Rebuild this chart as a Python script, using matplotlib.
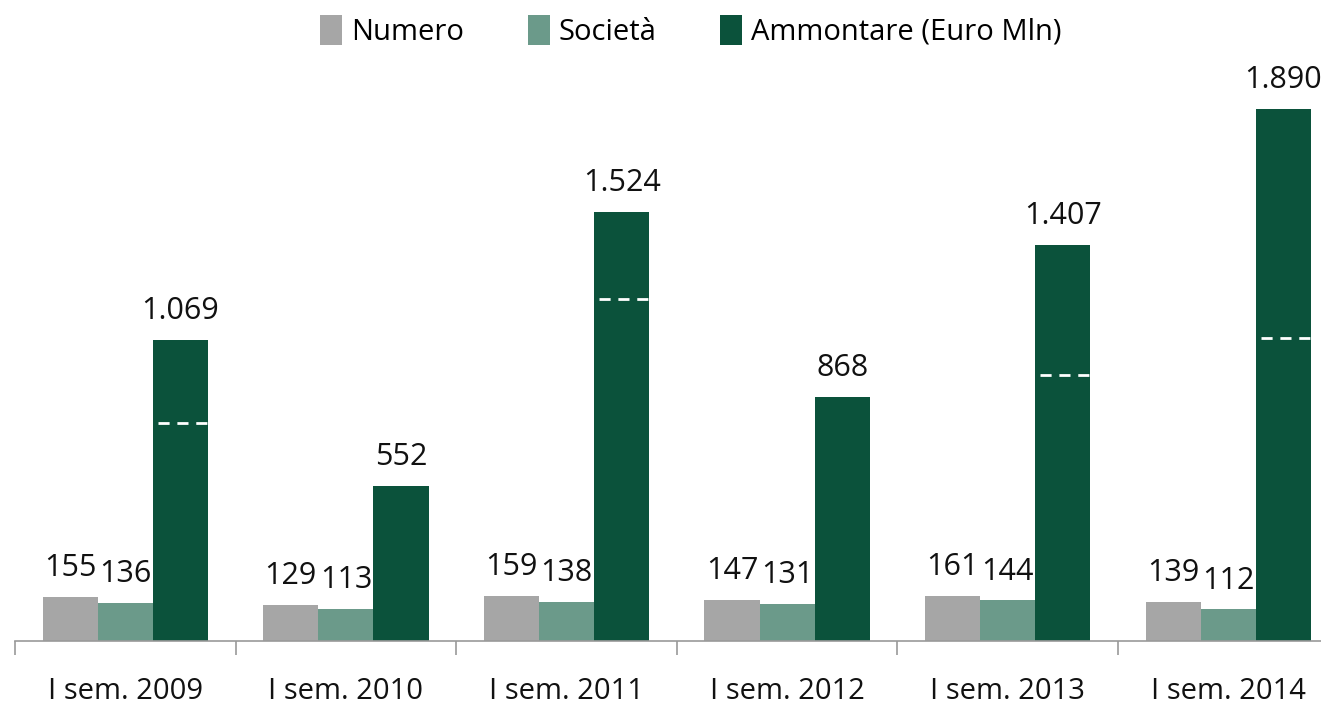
import matplotlib.pyplot as plt
import numpy as np

# dati
periodi = ["I sem. 2009", "I sem. 2010", "I sem. 2011", "I sem. 2012", "I sem. 2013", "I sem. 2014"]
numero = [155, 129, 159, 147, 161, 139]
societa = [136, 113, 138, 131, 144, 112]
ammontare = [1069, 552, 1524, 868, 1407, 1890]
# linee tratteggiate dentro le barre (None = assente)
tratteggio = [774, None, 1214, None, 945, 1076]

c_num = "#a6a6a6"
c_soc = "#6b9a8a"
c_amm = "#0b523b"

plt.rcParams['font.family'] = ['Open Sans', 'DejaVu Sans']

fig = plt.figure(figsize=(13.21, 7.07), dpi=100)
ax = fig.add_axes([15 / 1321, 66 / 707, 1323.6 / 1321, 581 / 707])

x = np.arange(len(periodi))
w = 0.25
b1 = ax.bar(x - w, numero, w, color=c_num, label="Numero")
b2 = ax.bar(x, societa, w, color=c_soc, label="Società")
b3 = ax.bar(x + w, ammontare, w, color=c_amm, label="Ammontare (Euro Mln)")

fmt = lambda v: f"{v:,}".replace(",", ".")
for bars in (b1, b2, b3):
    ax.bar_label(bars, labels=[fmt(v) for v in bars.datavalues], padding=10,
                 fontsize=22, color="#111111")

for i, t in enumerate(tratteggio):
    if t is not None:
        ax.plot([x[i] + w / 2, x[i] + 1.5 * w], [t, t], color="white", lw=2,
                linestyle=(5, (4, 2.8)), dash_capstyle="butt")

ax.set_xlim(-0.5, len(periodi) - 0.5)
ax.set_ylim(0, 2063)
ax.set_yticks([])
for s in ("top", "right", "left"):
    ax.spines[s].set_visible(False)
ax.spines["bottom"].set_color("#999999")
ax.spines["bottom"].set_linewidth(1.2)

ax.set_xticks(np.arange(-0.5, len(periodi)), labels=[])
ax.tick_params(axis="x", which="major", length=10, width=1.2, color="#999999")
ax.set_xticks(x, labels=periodi, minor=True)
ax.tick_params(axis="x", which="minor", length=0, pad=26, labelsize=21, labelcolor="#111111")

leg = fig.legend(handles=[b1, b2, b3], loc="center", bbox_to_anchor=(0.523, 1 - 31 / 707),
                 ncol=3, frameon=False, handlelength=0.75, handleheight=1.2,
                 handletextpad=0.3, columnspacing=2.2,
                 prop={'family': ['Open Sans', 'DejaVu Sans'], 'size': 21})

fig.savefig("out.png", dpi=100)
